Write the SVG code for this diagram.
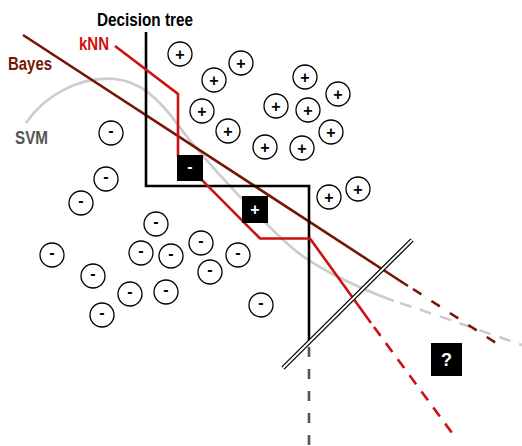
<svg xmlns="http://www.w3.org/2000/svg" width="522" height="446" viewBox="0 0 522 446">
<style>
.lbl{font-family:"Liberation Sans Narrow","Liberation Sans",Arial,sans-serif;font-weight:bold;font-size:18px}
.pt circle{fill:#fff;stroke:#000;stroke-width:1.3}
.pt text{font-family:"Liberation Sans",Arial,sans-serif;font-weight:bold;font-size:16px;text-anchor:middle;fill:#000}
.sq rect{fill:#000}
.sq text{font-family:"Liberation Sans",Arial,sans-serif;font-weight:bold;font-size:16px;text-anchor:middle;fill:#fff}
.ln{fill:none;stroke-width:2.6}
.tree{stroke:#000}
.treed{stroke:#555;stroke-dasharray:10 12}
.knn{stroke:#cc1111}
.knnd{stroke:#cc1111;stroke-dasharray:11 9}
.bay{stroke:#781606}
.bayd{stroke:#781606;stroke-dasharray:10 12}
.svm{stroke:#cccccc}
.svmd{stroke:#cccccc;stroke-dasharray:12 9}
</style>
<g id="connectors">
  <path class="ln svm" d="M26,123 C45,95 80,76 115,79 C140,81 160,100 178,125 C200,155 255,215 290,246 C310,264 350,285 394,301"/>
  <path class="ln svmd" d="M400,303 C425,311 470,327 522,345"/>
  <path class="ln bay" d="M23,35 L408,286"/>
  <path class="ln bayd" d="M413,289 L496,343"/>
  <path class="ln tree" d="M146,32 L146,186 L309,186 L309,342"/>
  <path class="ln treed" d="M309,347 L309,446"/>
  <path class="ln knn" d="M115,46 L178,94 L178,156 L260,238.5 L310,238.5 L371,323"/>
  <path class="ln knnd" d="M374,327 L455,437"/>
  <g id="barrier">
    <path d="M283,368 L412,240" stroke="#000" stroke-width="4.5" fill="none"/>
    <path d="M283,368 L412,240" stroke="#fff" stroke-width="2" fill="none"/>
  </g>
</g>
<g id="labels">
  <text id="lbl-tree" class="lbl" x="97" y="26" fill="#000" textLength="96" lengthAdjust="spacingAndGlyphs">Decision tree</text>
  <text id="lbl-knn" class="lbl" x="79" y="49.5" fill="#cc1111" textLength="30" lengthAdjust="spacingAndGlyphs">kNN</text>
  <text id="lbl-bayes" class="lbl" x="8" y="70" fill="#781606" textLength="44" lengthAdjust="spacingAndGlyphs">Bayes</text>
  <text id="lbl-svm" class="lbl" x="15" y="144" fill="#555" textLength="33" lengthAdjust="spacingAndGlyphs">SVM</text>
</g>
<g id="plus-points">
  <g id="p1" class="pt"><circle cx="180" cy="54" r="12"/><text x="180" y="59.5">+</text></g>
  <g id="p2" class="pt"><circle cx="241" cy="63" r="12"/><text x="241" y="68.5">+</text></g>
  <g id="p3" class="pt"><circle cx="214" cy="80" r="12"/><text x="214" y="85.5">+</text></g>
  <g id="p4" class="pt"><circle cx="202" cy="111" r="12"/><text x="202" y="116.5">+</text></g>
  <g id="p5" class="pt"><circle cx="228" cy="131" r="12"/><text x="228" y="136.5">+</text></g>
  <g id="p6" class="pt"><circle cx="305" cy="77" r="12"/><text x="305" y="82.5">+</text></g>
  <g id="p7" class="pt"><circle cx="338" cy="94" r="12"/><text x="338" y="99.5">+</text></g>
  <g id="p8" class="pt"><circle cx="276" cy="106" r="12"/><text x="276" y="111.5">+</text></g>
  <g id="p9" class="pt"><circle cx="308" cy="110" r="12"/><text x="308" y="115.5">+</text></g>
  <g id="p10" class="pt"><circle cx="331" cy="132" r="12"/><text x="331" y="137.5">+</text></g>
  <g id="p11" class="pt"><circle cx="265" cy="147" r="12"/><text x="265" y="152.5">+</text></g>
  <g id="p12" class="pt"><circle cx="302" cy="148" r="12"/><text x="302" y="153.5">+</text></g>
  <g id="p13" class="pt"><circle cx="329" cy="197" r="12"/><text x="329" y="202.5">+</text></g>
  <g id="p14" class="pt"><circle cx="358" cy="189" r="12"/><text x="358" y="194.5">+</text></g>
</g>
<g id="minus-points">
  <g id="m1" class="pt"><circle cx="111" cy="133" r="12"/><text x="111" y="135.5">-</text></g>
  <g id="m2" class="pt"><circle cx="106" cy="179" r="12"/><text x="106" y="181.5">-</text></g>
  <g id="m3" class="pt"><circle cx="81" cy="203" r="12"/><text x="81" y="205.5">-</text></g>
  <g id="m4" class="pt"><circle cx="156" cy="224" r="12"/><text x="156" y="226.5">-</text></g>
  <g id="m5" class="pt"><circle cx="52" cy="255" r="12"/><text x="52" y="257.5">-</text></g>
  <g id="m6" class="pt"><circle cx="141" cy="253" r="12"/><text x="141" y="255.5">-</text></g>
  <g id="m7" class="pt"><circle cx="171" cy="256" r="12"/><text x="171" y="258.5">-</text></g>
  <g id="m8" class="pt"><circle cx="201" cy="243" r="12"/><text x="201" y="245.5">-</text></g>
  <g id="m9" class="pt"><circle cx="238" cy="255" r="12"/><text x="238" y="257.5">-</text></g>
  <g id="m10" class="pt"><circle cx="93" cy="276" r="12"/><text x="93" y="278.5">-</text></g>
  <g id="m11" class="pt"><circle cx="210" cy="272" r="12"/><text x="210" y="274.5">-</text></g>
  <g id="m12" class="pt"><circle cx="130" cy="294" r="12"/><text x="130" y="296.5">-</text></g>
  <g id="m13" class="pt"><circle cx="166" cy="292" r="12"/><text x="166" y="294.5">-</text></g>
  <g id="m14" class="pt"><circle cx="102" cy="315" r="12"/><text x="102" y="317.5">-</text></g>
  <g id="m15" class="pt"><circle cx="261" cy="305" r="12"/><text x="261" y="307.5">-</text></g>
</g>
<g id="sq-minus" class="sq"><rect x="177" y="155" width="26" height="26"/><text x="190" y="172">-</text></g>
<g id="sq-plus" class="sq"><rect x="242" y="196" width="26" height="27"/><text x="255" y="215">+</text></g>
<g id="sq-query" class="sq"><rect x="431" y="343" width="31" height="33"/><text x="446.5" y="366" style="font-family:'Liberation Sans Narrow','Liberation Sans',Arial,sans-serif;font-size:18px">?</text></g>
</svg>
